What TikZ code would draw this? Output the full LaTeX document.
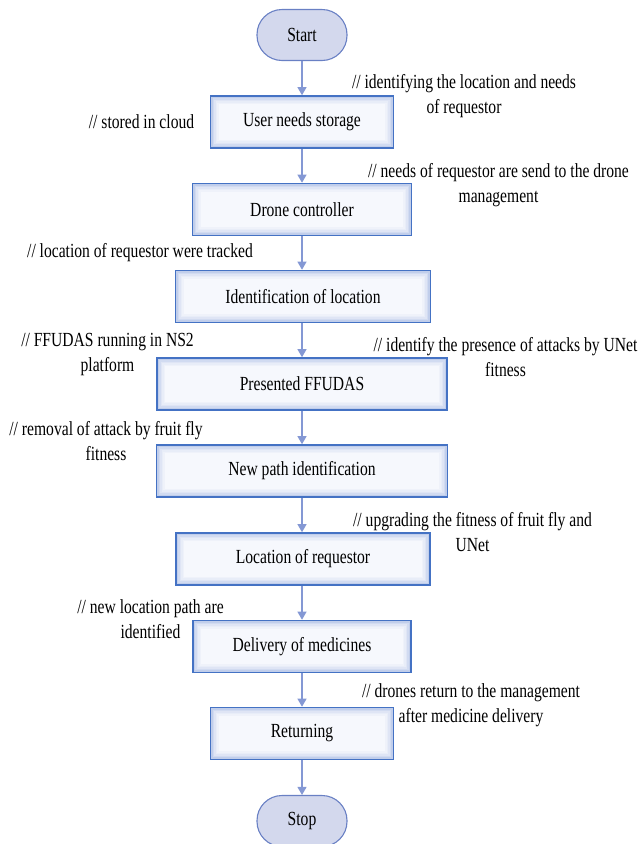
\documentclass[tikz,border=0pt]{standalone}
\usepackage{fontspec}
\setmainfont[FakeStretch=0.78]{Liberation Serif}
\usetikzlibrary{arrows.meta,positioning}
\definecolor{boxborder}{RGB}{68,114,196}
\definecolor{boxfill}{RGB}{246,248,253}
\definecolor{boxglow}{RGB}{150,172,222}
\definecolor{termfill}{RGB}{211,216,237}
\definecolor{termborder}{RGB}{105,128,196}
\definecolor{arrowcol}{RGB}{132,152,212}
\tikzset{
  x=1pt, y=-1pt,
  every node/.style={font=\fontsize{20}{25}\selectfont},
  procbox/.style={draw=boxborder, line width=1.6pt, fill=boxfill, minimum height=52pt, inner sep=0pt,
    path picture={
      \foreach \d/\o in {1.5/0.55,3/0.38,4.5/0.24,6/0.14,7.5/0.07}
        \draw[boxglow, line width=1.6pt, opacity=\o]
          ([shift={(\d pt,-\d pt)}]path picture bounding box.north west) rectangle
          ([shift={(-\d pt,\d pt)}]path picture bounding box.south east);
    }},
  termbox/.style={draw=termborder, line width=1.1pt, fill=termfill, rounded corners=25pt,
    minimum width=90pt, minimum height=51pt, inner sep=0pt},
  note/.style={align=center, inner sep=0pt},
  flow/.style={draw=arrowcol, line width=1.1pt, -{Triangle[length=8pt,width=9pt]}}
}
\begin{document}
\begin{tikzpicture}
\useasboundingbox (0,0) rectangle (638,844);
% main flow
\node[termbox] (start) at (302,35) {Start};
\node[procbox, minimum width=183pt] (user) at (302,122) {User needs storage};
\node[procbox, minimum width=219pt] (drone) at (302,209.5) {Drone controller};
\node[procbox, minimum width=255pt] (ident) at (303,296.5) {Identification of location};
\node[procbox, minimum width=290pt] (ffudas) at (302,384) {Presented FFUDAS};
\node[procbox, minimum width=291pt] (newpath) at (302,471) {New path identification};
\node[procbox, minimum width=254pt] (locreq) at (303,559) {Location of requestor};
\node[procbox, minimum width=218pt] (deliv) at (302,646.5) {Delivery of medicines};
\node[procbox, minimum width=183pt] (ret) at (302,733.5) {Returning};
\node[termbox] (stop) at (302,821) {Stop};
% connectors
\draw[flow] (start.south -| 302,0) -- (user.north -| 302,0);
\draw[flow] (user.south -| 302,0) -- (drone.north -| 302,0);
\draw[flow] (drone.south -| 302,0) -- (ident.north -| 302,0);
\draw[flow] (ident.south -| 302,0) -- (ffudas.north -| 302,0);
\draw[flow] (ffudas.south -| 302,0) -- (newpath.north -| 302,0);
\draw[flow] (newpath.south -| 302,0) -- (locreq.north -| 302,0);
\draw[flow] (locreq.south -| 302,0) -- (deliv.north -| 302,0);
\draw[flow] (deliv.south -| 302,0) -- (ret.north -| 302,0);
\draw[flow] (ret.south -| 302,0) -- (stop.north -| 302,0);
% annotations
\node[note] (a1) at (464,96) {// identifying the location and needs\\of requestor};
\node[note] (a2) at (141.5,122) {// stored in cloud};
\node[note] (a3) at (498.5,185) {// needs of requestor are send to the drone\\management};
\node[note] (a4) at (140,253) {// location of requestor were tracked};
\node[note] (a5) at (107.5,355) {// FFUDAS running in NS2\\platform};
\node[note] (a6) at (505.5,357) {// identify the presence of attacks by UNet\\fitness};
\node[note] (a7) at (106,441) {// removal of attack by fruit fly\\fitness};
\node[note] (a8) at (472.5,532) {// upgrading the fitness of fruit fly and\\UNet};
\node[note] (a9) at (150.5,619) {// new location path are\\identified};
\node[note] (a10) at (471,705) {// drones return to the management\\after medicine delivery};
\end{tikzpicture}
\end{document}
